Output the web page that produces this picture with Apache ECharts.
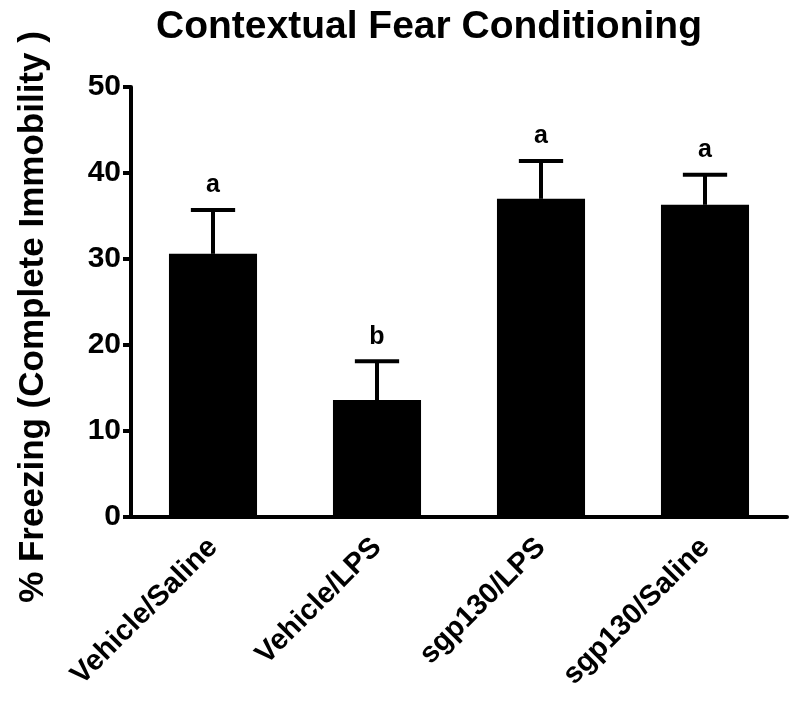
<!DOCTYPE html>
<html>
<head>
<meta charset="utf-8">
<script src="https://cdn.jsdelivr.net/npm/echarts@6/dist/echarts.min.js"></script>
<style>
  html, body { margin: 0; padding: 0; background: #fff; }
  #chart { width: 796px; height: 702px; }
</style>
</head>
<body>
<div id="chart"></div>
<script>
// 数据
var groups = ['Vehicle/Saline', 'Vehicle/LPS', 'sgp130/LPS', 'sgp130/Saline'];
var freezing = [30.6, 13.6, 37.0, 36.3];
var errTop = [35.7, 18.1, 41.4, 39.8];
var sigLetters = ['a', 'b', 'a', 'a'];

var chart = echarts.init(document.getElementById('chart'));

var errData = [];
for (var i = 0; i < groups.length; i++) {
  errData.push([i, freezing[i], errTop[i]]);
}

// 误差线 + 字母
function renderErr(params, api) {
  var idx = api.value(0);
  var p0 = api.coord([idx, api.value(1)]);
  var p1 = api.coord([idx, api.value(2)]);
  var half = api.size([1, 0])[0] * 0.135;
  var st = { stroke: '#000', lineWidth: 4 };
  return {
    type: 'group',
    children: [
      { type: 'line', shape: { x1: p0[0], y1: p0[1], x2: p1[0], y2: p1[1] }, style: st },
      { type: 'line', shape: { x1: p1[0] - half, y1: p1[1], x2: p1[0] + half, y2: p1[1] }, style: st },
      {
        type: 'text',
        x: p1[0], y: p1[1] - 12,
        style: {
          text: sigLetters[params.dataIndex],
          fill: '#000',
          font: 'bold 25px "Liberation Sans", Arial, sans-serif',
          align: 'center',
          verticalAlign: 'bottom'
        }
      }
    ]
  };
}

var option = {
  animation: false,
  title: {
    text: 'Contextual Fear Conditioning',
    left: 151,
    top: 3,
    textStyle: {
      fontFamily: '"Liberation Sans", Arial, sans-serif',
      fontWeight: 'bold',
      fontSize: 39,
      color: '#000'
    }
  },
  grid: { left: 131, right: 9, top: 87, bottom: 185 },
  xAxis: {
    type: 'category',
    data: groups,
    axisLine: { lineStyle: { color: '#000', width: 4 } },
    axisTick: { alignWithLabel: true, length: 7, lineStyle: { color: '#000', width: 4 } },
    axisLabel: {
      rotate: 45,
      margin: 26,
      color: '#000',
      fontFamily: '"Liberation Sans", Arial, sans-serif',
      fontWeight: 'bold',
      fontSize: 29
    }
  },
  yAxis: {
    type: 'value',
    min: 0,
    max: 50,
    interval: 10,
    name: '% Freezing (Complete Immobility )',
    nameLocation: 'middle',
    nameGap: 80,
    nameTextStyle: {
      color: '#000',
      fontFamily: '"Liberation Sans", Arial, sans-serif',
      fontWeight: 'bold',
      fontSize: 35,
      padding: [0, 30, 0, 0]
    },
    splitLine: { show: false },
    axisLine: { show: true, lineStyle: { color: '#000', width: 4 } },
    axisTick: { show: true, length: 8, lineStyle: { color: '#000', width: 4 } },
    axisLabel: {
      margin: 10,
      color: '#000',
      fontFamily: '"Liberation Sans", Arial, sans-serif',
      fontWeight: 'bold',
      fontSize: 30
    }
  },
  series: [
    {
      type: 'bar',
      data: freezing,
      barWidth: '53.7%',
      itemStyle: { color: '#000' }
    },
    {
      type: 'custom',
      data: errData,
      renderItem: renderErr,
      z: 3
    }
  ]
};

chart.setOption(option);
</script>
</body>
</html>
